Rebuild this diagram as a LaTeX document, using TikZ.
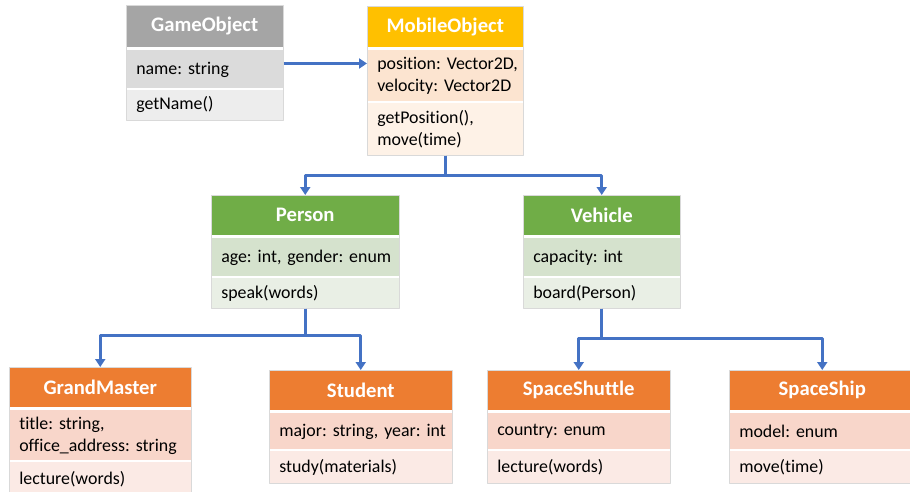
\documentclass[tikz,border=0pt]{standalone}
\usepackage{fontspec}
\setmainfont{Carlito}[Ligatures=NoCommon]
\usetikzlibrary{positioning,arrows.meta}
\definecolor{linkblue}{HTML}{4472C4}
\definecolor{grayhead}{HTML}{A5A5A5}
\definecolor{grayattr}{HTML}{DBDBDB}
\definecolor{graymeth}{HTML}{EDEDED}
\definecolor{goldhead}{HTML}{FFC000}
\definecolor{goldattr}{HTML}{FCE4D0}
\definecolor{goldmeth}{HTML}{FEF2E7}
\definecolor{greenhead}{HTML}{70AD47}
\definecolor{greenattr}{HTML}{D5E2CD}
\definecolor{greenmeth}{HTML}{E9EFE5}
\definecolor{orangehead}{HTML}{ED7D31}
\definecolor{orangeattr}{HTML}{F8D6CA}
\definecolor{orangemeth}{HTML}{FBEAE5}
\newcommand{\rowfont}{\fontsize{13.4}{16.5}\selectfont\frenchspacing
	\hyphenpenalty=10000\relax\hbadness=10000\relax\hfuzz=20pt\relax}
\tikzset{
	head/.style={anchor=north west,inner sep=0pt,text=white,font=\fontsize{15.5}{18}\selectfont\bfseries},
	row/.style={inner xsep=7.5pt,inner ysep=0pt,align=left,font=\rowfont},
	link/.style={draw=linkblue,line width=2.2pt,-{Triangle[length=6pt,width=7.5pt]}},
	frame/.style={draw=black!15,line width=0.6pt}
}
\begin{document}
\begin{tikzpicture}[x=0.75pt,y=-0.75pt,line join=round]
	\useasboundingbox (0,0) rectangle (910,492);
	\clip (0,0) rectangle (910,492);
	% top row
	\node[head,fill=grayhead,minimum width=117.75pt,minimum height=31.5pt] (go) at (126,5) {GameObject};
	\node[row,fill=grayattr,text width=102.75pt,minimum height=28.5pt,below=2pt of go] (go-a) {name: string};
	\node[row,fill=graymeth,text width=102.75pt,minimum height=22pt,below=1pt of go-a] (go-m) {getName()};
	\draw[frame] (go.north west) rectangle (go-m.south east);
	
	\node[head,fill=goldhead,minimum width=117pt,minimum height=30.75pt] (mo) at (367,6) {MobileObject};
	\node[row,fill=goldattr,text width=102pt,minimum height=38.25pt,below=2pt of mo] (mo-a) {position:~Vector2D,\\velocity:~Vector2D};
	\node[row,fill=goldmeth,text width=102pt,minimum height=39pt,below=1pt of mo-a] (mo-m) {getPosition(),\\move(time)};
	\draw[frame] (mo.north west) rectangle (mo-m.south east);
	
	% middle row
	\node[head,fill=greenhead,minimum width=141pt,minimum height=30pt] (pe) at (211,195) {Person};
	\node[row,fill=greenattr,text width=126pt,minimum height=28.5pt,below=2pt of pe] (pe-a) {age:~int,~gender:~enum};
	\node[row,fill=greenmeth,text width=126pt,minimum height=22.5pt,below=1pt of pe-a] (pe-m) {speak(words)};
	\draw[frame] (pe.north west) rectangle (pe-m.south east);
	
	\node[head,fill=greenhead,minimum width=117.75pt,minimum height=30pt] (ve) at (523,195) {Vehicle};
	\node[row,fill=greenattr,text width=102.75pt,minimum height=28.5pt,below=2pt of ve] (ve-a) {capacity: int};
	\node[row,fill=greenmeth,text width=102.75pt,minimum height=22.5pt,below=1pt of ve-a] (ve-m) {board(Person)};
	\draw[frame] (ve.north west) rectangle (ve-m.south east);
	
	% bottom row
	\node[head,fill=orangehead,minimum width=136.5pt,minimum height=30pt] (gm) at (9,367) {GrandMaster};
	\node[row,fill=orangeattr,text width=121.5pt,minimum height=37.5pt,below=2pt of gm] (gm-a) {title: string,\\office\_address:~string};
	\node[row,fill=orangemeth,text width=121.5pt,minimum height=25pt,below=1pt of gm-a] (gm-m) {lecture(words)};
	\draw[frame] (gm.north west) rectangle (gm-m.south east);
	
	\node[head,fill=orangehead,minimum width=137.25pt,minimum height=30pt] (st) at (269,370) {Student};
	\node[row,fill=orangeattr,text width=122.25pt,minimum height=27pt,below=2pt of st] (st-a) {major:~string,~year:~int};
	\node[row,fill=orangemeth,text width=122.25pt,minimum height=24pt,below=1pt of st-a] (st-m) {study(materials)};
	\draw[frame] (st.north west) rectangle (st-m.south east);
	
	\node[head,fill=orangehead,minimum width=137.25pt,minimum height=30pt] (ss) at (487,370) {SpaceShuttle};
	\node[row,fill=orangeattr,text width=122.25pt,minimum height=27pt,below=2pt of ss] (ss-a) {country: enum};
	\node[row,fill=orangemeth,text width=122.25pt,minimum height=24pt,below=1pt of ss-a] (ss-m) {lecture(words)};
	\draw[frame] (ss.north west) rectangle (ss-m.south east);
	
	\node[head,fill=orangehead,minimum width=139.5pt,minimum height=30pt] (sp) at (729,370) {SpaceShip};
	\node[row,fill=orangeattr,text width=124.5pt,minimum height=27pt,below=2pt of sp] (sp-a) {model: enum};
	\node[row,fill=orangemeth,text width=124.5pt,minimum height=24pt,below=1pt of sp-a] (sp-m) {move(time)};
	\draw[frame] (sp.north west) rectangle (sp-m.south east);
	
	% links
	\coordinate (g) at ([yshift=4.5pt]go-a.east);
	\draw[link] (g) -- (g -| mo-a.west);
	\draw[link] (mo-m.south) -- ++(0,20) -| (pe.north);
	\draw[link] (mo-m.south) -- ++(0,20) -| (ve.north);
	\draw[link] (pe-m.south) -- ++(0,27) -| (gm.north);
	\draw[link] (pe-m.south) -- ++(0,27) -| (st.north);
	\draw[link] (ve-m.south) -- ++(0,30) -| (ss.north);
	\draw[link] (ve-m.south) -- ++(0,30) -| (sp.north);
\end{tikzpicture}
\end{document}
